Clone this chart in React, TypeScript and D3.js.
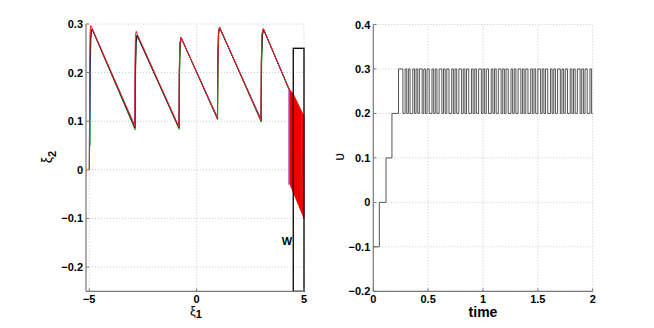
import React, { useEffect, useRef } from "react";
import * as d3 from "d3";

// Left panel: state trajectories (xi1, xi2), several nearly overlapping runs
const TRAJ_BLACK: [number, number][] = [
  [-5, 0], [-4.97, 0.2], [-4.94, 0.27], [-4.9, 0.289], [-4.85, 0.288],
  [-2.87, 0.086], [-2.85, 0.2], [-2.82, 0.262], [-2.77, 0.277],
  [-0.82, 0.086], [-0.8, 0.2], [-0.77, 0.258], [-0.72, 0.272],
  [0.97, 0.105], [0.99, 0.22], [1.02, 0.28], [1.07, 0.293],
  [3.0, 0.101], [3.02, 0.22], [3.06, 0.278], [3.12, 0.289],
  [4.3, 0.166],
];
const TRAJ_GREEN: [number, number][] = [
  [-4.96, 0.05], [-4.95, 0.2], [-4.92, 0.27], [-4.88, 0.287], [-4.83, 0.286],
  [-2.86, 0.082], [-2.84, 0.2], [-2.81, 0.26], [-2.76, 0.276],
  [-0.81, 0.083], [-0.79, 0.2], [-0.76, 0.257], [-0.71, 0.271],
  [0.98, 0.103], [1.0, 0.22], [1.03, 0.279], [1.08, 0.292],
  [3.01, 0.098], [3.03, 0.22], [3.07, 0.277], [3.13, 0.288],
  [4.32, 0.164],
];
const TRAJ_BLUE: [number, number][] = [
  [-4.98, 0.04], [-4.96, 0.2], [-4.93, 0.27], [-4.89, 0.288], [-4.84, 0.287],
  [-2.87, 0.09], [-2.86, 0.2], [-2.83, 0.262], [-2.78, 0.277],
  [-0.82, 0.088], [-0.81, 0.2], [-0.78, 0.258], [-0.73, 0.272],
  [0.97, 0.108], [0.98, 0.22], [1.01, 0.28], [1.06, 0.293],
  [3.0, 0.104], [3.01, 0.22], [3.05, 0.278], [3.11, 0.289],
  [4.28, 0.168],
];
const TRAJ_RED: [number, number][] = [
  [-4.99, 0], [-4.98, 0.22], [-4.96, 0.28], [-4.93, 0.297], [-4.87, 0.292],
  [-2.88, 0.09], [-2.87, 0.22], [-2.85, 0.275], [-2.81, 0.285], [-2.76, 0.279],
  [-0.82, 0.088], [-0.81, 0.2], [-0.78, 0.26], [-0.73, 0.273],
  [0.97, 0.106], [0.99, 0.22], [1.02, 0.28], [1.07, 0.294],
  [3.0, 0.102], [3.01, 0.22], [3.04, 0.28], [3.1, 0.291],
  [4.33, 0.164],
];
// Purple run drops straight down at the edge of the target set
const TRAJ_PURPLE: [number, number][] = [
  [4.3, 0.166], [4.3, -0.031],
];
// Envelope of the red trajectories inside the target region
const RED_FAN: [number, number][] = [
  [4.33, 0.165], [4.5, 0.156], [5, 0.11], [5, -0.1], [4.33, -0.028],
];
const W_BOX = { x0: 4.5, x1: 5, y0: -0.25, y1: 0.25 };
const W_LABEL: [number, number] = [4.21, -0.146];

const LEFT_X_TICKS = [-5, 0, 5];
const LEFT_Y_TICKS = [-0.2, -0.1, 0, 0.1, 0.2, 0.3];

// Right panel: switching input v(t)
const V_STEPS: [number, number][] = [
  [0, -0.1], [0.055, 0], [0.116, 0.1], [0.17, 0.2], [0.23, 0.3],
];
const V_SWITCH_TIMES = [
  0.27, 0.29, 0.305, 0.32, 0.335, 0.36, 0.375, 0.39, 0.405, 0.42, 0.445, 0.46,
  0.475, 0.49, 0.51, 0.535, 0.55, 0.565, 0.58, 0.6, 0.625, 0.64, 0.655, 0.67,
  0.69, 0.715, 0.73, 0.745, 0.76, 0.78, 0.805, 0.82, 0.835, 0.85, 0.87, 0.895,
  0.91, 0.925, 0.94, 0.96, 0.985, 1.0, 1.015, 1.03, 1.05, 1.075, 1.09, 1.105,
  1.12, 1.14, 1.165, 1.18, 1.195, 1.21, 1.23, 1.255, 1.27, 1.285, 1.3, 1.32,
  1.345, 1.36, 1.375, 1.39, 1.41, 1.435, 1.45, 1.465, 1.48, 1.5, 1.525, 1.54,
  1.555, 1.57, 1.59, 1.615, 1.63, 1.645, 1.66, 1.68, 1.705, 1.72, 1.735, 1.75,
  1.77, 1.795, 1.81, 1.825, 1.84, 1.86, 1.885, 1.9, 1.915, 1.93, 1.95, 1.975, 1.99,
];
const V_LEVELS = [0.3, 0.2];
const V_END = 2;

const RIGHT_X_TICKS = [0, 0.5, 1, 1.5, 2];
const RIGHT_Y_TICKS = [-0.2, -0.1, 0, 0.1, 0.2, 0.3, 0.4];

const W = 654;
const H = 328;
const FONT = "'Liberation Sans', Arial, sans-serif";

function fmt(d: number) {
  if (d === 0) return "0";
  return d < 0 ? "\u2212" + String(-d) : String(d);
}

export default function App() {
  const svgRef = useRef<SVGSVGElement>(null);

  useEffect(() => {
    const svg = d3.select(svgRef.current);
    svg.selectAll("*").remove();

    const axisColor = "#7a7a7a";
    const gridColor = "#c8c8c8";

    const drawFrame = (x: any, y: any, xt: number[], yt: number[]) => {
      const [x0, x1] = x.range();
      const [y0, y1] = y.range();
      const g = svg.append("g");
      // dotted grid
      g.selectAll(".gx").data(xt).join("line")
        .attr("x1", (d: number) => x(d)).attr("x2", (d: number) => x(d))
        .attr("y1", y0).attr("y2", y1)
        .attr("stroke", gridColor).attr("stroke-width", 1).attr("stroke-dasharray", "1,2");
      g.selectAll(".gy").data(yt).join("line")
        .attr("x1", x0).attr("x2", x1)
        .attr("y1", (d: number) => y(d)).attr("y2", (d: number) => y(d))
        .attr("stroke", gridColor).attr("stroke-width", 1).attr("stroke-dasharray", "1,2");
      return g;
    };

    const drawAxes = (x: any, y: any, xt: number[], yt: number[]) => {
      const [x0] = x.range();
      const [y0] = y.range();
      const g = svg.append("g");
      g.append("line").attr("x1", x0).attr("x2", x.range()[1]).attr("y1", y0).attr("y2", y0)
        .attr("stroke", axisColor).attr("stroke-width", 1.2);
      g.append("line").attr("x1", x0).attr("x2", x0).attr("y1", y0).attr("y2", y.range()[1])
        .attr("stroke", axisColor).attr("stroke-width", 1.2);
      g.selectAll(".tx").data(xt).join("line")
        .attr("x1", (d: number) => x(d)).attr("x2", (d: number) => x(d))
        .attr("y1", y0).attr("y2", y0 - 3).attr("stroke", axisColor);
      g.selectAll(".ty").data(yt).join("line")
        .attr("x1", x0).attr("x2", x0 + 3)
        .attr("y1", (d: number) => y(d)).attr("y2", (d: number) => y(d)).attr("stroke", axisColor);
      g.selectAll(".lx").data(xt).join("text")
        .attr("x", (d: number) => x(d)).attr("y", y0 + 12)
        .attr("text-anchor", "middle")
        .style("font-family", FONT).style("font-size", "11px").style("font-weight", 700)
        .text((d: number) => fmt(d));
      g.selectAll(".ly").data(yt).join("text")
        .attr("x", x0 - 3).attr("y", (d: number) => y(d) + 4)
        .attr("text-anchor", "end")
        .style("font-family", FONT).style("font-size", "11px").style("font-weight", 700)
        .text((d: number) => fmt(d));
    };

    // ---------- Left panel ----------
    const xL = d3.scaleLinear().domain([-5.15, 5]).range([86, 304]);
    const yL = d3.scaleLinear().domain([-0.25, 0.3]).range([291.3, 24]);
    drawFrame(xL, yL, LEFT_X_TICKS, LEFT_Y_TICKS);

    const lineL = d3.line<[number, number]>().x(d => xL(d[0])).y(d => yL(d[1]));
    const gL = svg.append("g");
    gL.append("path").attr("d", lineL(RED_FAN) + "Z").attr("fill", "#f00000").attr("stroke", "#f00000").attr("stroke-width", 0.8);
    gL.append("path").datum(TRAJ_PURPLE).attr("d", lineL).attr("fill", "none").attr("stroke", "#a040c0").attr("stroke-width", 1.2);
    const runs: [[number, number][], string][] = [
      [TRAJ_GREEN, "#1fa01f"],
      [TRAJ_BLUE, "#2040e0"],
      [TRAJ_BLACK, "#202020"],
      [TRAJ_RED, "#ff2020"],
    ];
    runs.forEach(([data, color]) => {
      gL.append("path").datum(data).attr("d", lineL)
        .attr("fill", "none").attr("stroke", color).attr("stroke-width", 1)
        .attr("stroke-linejoin", "round");
    });
    // olive line inside the fan
    gL.append("line")
      .attr("x1", xL(4.88)).attr("x2", xL(4.86)).attr("y1", yL(0.12)).attr("y2", yL(-0.06))
      .attr("stroke", "#8a6a10").attr("stroke-width", 0.6).attr("opacity", 0.6);

    gL.append("rect")
      .attr("x", xL(W_BOX.x0)).attr("y", yL(W_BOX.y1))
      .attr("width", xL(W_BOX.x1) - xL(W_BOX.x0)).attr("height", yL(W_BOX.y0) - yL(W_BOX.y1))
      .attr("fill", "none").attr("stroke", "#000").attr("stroke-width", 1.3);
    gL.append("text")
      .attr("x", xL(W_LABEL[0])).attr("y", yL(W_LABEL[1]) + 4)
      .attr("text-anchor", "middle")
      .style("font-family", FONT).style("font-size", "11px").style("font-weight", 700)
      .text("W");

    drawAxes(xL, yL, LEFT_X_TICKS, LEFT_Y_TICKS);

    // axis titles
    const yt = svg.append("text")
      .attr("transform", "translate(52,157) rotate(-90)")
      .attr("text-anchor", "middle")
      .style("font-family", FONT).style("font-size", "14px");
    yt.append("tspan").text("ξ");
    yt.append("tspan").attr("dy", 4).style("font-size", "11px").style("font-weight", 700).text("2");

    const xt = svg.append("text")
      .attr("x", 196).attr("y", 315)
      .attr("text-anchor", "middle")
      .style("font-family", FONT).style("font-size", "13px");
    xt.append("tspan").text("ξ");
    xt.append("tspan").attr("dy", 3).style("font-size", "11px").style("font-weight", 700).text("1");

    // ---------- Right panel ----------
    const xR = d3.scaleLinear().domain([0, 2]).range([373.3, 592.7]);
    const yR = d3.scaleLinear().domain([-0.2, 0.4]).range([291.3, 24.5]);
    drawFrame(xR, yR, RIGHT_X_TICKS, RIGHT_Y_TICKS);

    const vPts: [number, number][] = [...V_STEPS];
    V_SWITCH_TIMES.forEach((t, i) => vPts.push([t, V_LEVELS[(i + 1) % 2]]));
    vPts.push([V_END, V_LEVELS[V_SWITCH_TIMES.length % 2]]);
    const stepLine = d3.line<[number, number]>().x(d => xR(d[0])).y(d => yR(d[1])).curve(d3.curveStepAfter);
    svg.append("path").datum(vPts).attr("d", stepLine)
      .attr("fill", "none").attr("stroke", "#555").attr("stroke-width", 1);

    drawAxes(xR, yR, RIGHT_X_TICKS, RIGHT_Y_TICKS);

    svg.append("text")
      .attr("transform", "translate(344,157) rotate(-90)")
      .attr("text-anchor", "middle")
      .style("font-family", FONT).style("font-size", "14px")
      .text("υ");
    svg.append("text")
      .attr("x", xR(1)).attr("y", 317)
      .attr("text-anchor", "middle")
      .style("font-family", FONT).style("font-size", "14px").style("font-weight", 700)
      .text("time");
  }, []);

  return (
    <div style={{ position: "absolute", left: 0, top: 0, width: W, height: H, background: "#fff" }}>
      <svg ref={svgRef} width={W} height={H} viewBox={`0 0 ${W} ${H}`} />
    </div>
  );
}
